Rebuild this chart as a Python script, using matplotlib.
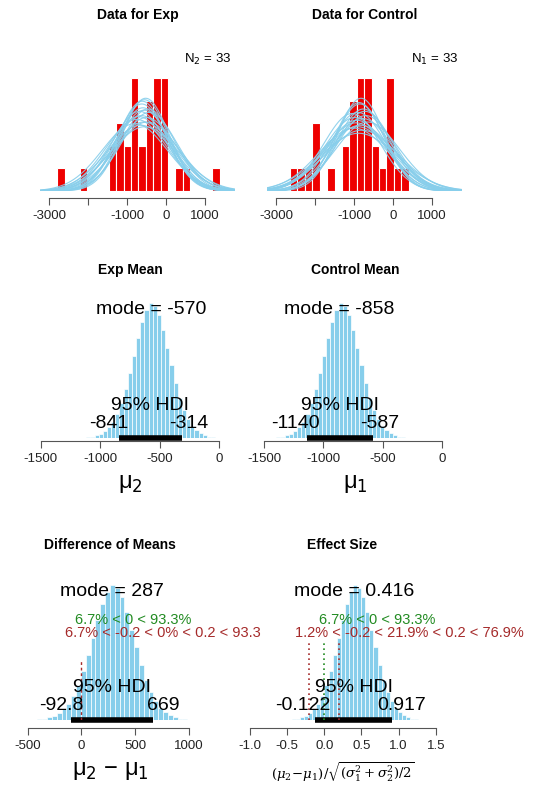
import matplotlib
matplotlib.use("Agg")
import matplotlib.pyplot as plt
import numpy as np

plt.rcParams['font.family'] = ['Liberation Sans', 'DejaVu Sans']

W, H = 540, 797

# --- data panels (counts per bin) ---
exp_bin_start, exp_bin_width = -2700, 190
exp_counts = [1, 0, 0, 1, 0, 0, 0, 2, 3, 2, 5, 2, 4, 5, 5, 0, 1, 1, 0, 0, 0, 1]
ctl_bin_start, ctl_bin_width = -2545, 190
ctl_counts = [1, 1, 1, 3, 0, 1, 0, 2, 4, 5, 5, 2, 1, 5, 1, 1]

# posterior predictive curves (mu, sigma)
exp_mu = [-620, -560, -700, -480, -520, -650, -590, -430, -750, -540, -610, -680, -500, -570, -460, -800, -630, -550]
exp_sigma = [650, 700, 760, 820, 610, 860, 680, 720, 790, 880, 630, 710, 770, 820, 690, 840, 750, 620]
ctl_mu = [-850, -900, -780, -950, -820, -1000, -700, -880, -760, -930, -840, -1050, -650, -870, -800, -980, -720, -910]
ctl_sigma = [650, 720, 780, 830, 610, 900, 750, 980, 690, 800, 860, 730, 820, 640, 930, 770, 710, 880]

# posterior histograms (relative heights)
post_shape = [1, 1, 2, 3, 5, 8, 12, 18, 26, 36, 48, 61, 74, 86, 95, 100, 98, 91, 80, 67, 54, 41, 30, 21, 14, 9, 6, 4, 2, 1, 1]
exp_mean_start, exp_mean_width = -1100, 35
ctl_mean_start, ctl_mean_width = -1380, 35
diff_start, diff_width = -388, 45
eff_start, eff_width = -0.41, 0.055

RED = '#EE0000'
BLUE = '#87CEEB'
GREEN = '#228B22'
DRED = '#A52A2A'

fig = plt.figure(figsize=(W / 100, H / 100), dpi=100)


def make_ax(x0, x1, ytop, ybot, xlim, ylim):
    ax = fig.add_axes([x0 / W, 1 - ybot / H, (x1 - x0) / W, (ybot - ytop) / H])
    ax.patch.set_visible(False)
    ax.set_xlim(*xlim)
    ax.set_ylim(*ylim)
    for s in ['top', 'right', 'left']:
        ax.spines[s].set_visible(False)
    ax.set_yticks([])
    ax.tick_params(axis='x', labelsize=9.5, length=5, color='#555555', labelcolor='#222222')
    ax.spines['bottom'].set_color('#555555')
    return ax


def centers(start, width, n):
    return start + width * np.arange(n)


def data_panel(ax, start, width, counts, mus, sigmas, ticks, title, nlabel):
    c = centers(start, width, len(counts))
    ax.bar(c, counts, width=width, color=RED, edgecolor='white', linewidth=0.8)
    xs = np.linspace(ax.get_xlim()[0], ax.get_xlim()[1], 300)
    n = sum(counts)
    for m, s in zip(mus, sigmas):
        ax.plot(xs, n * width * np.exp(-0.5 * ((xs - m) / s) ** 2) / (s * np.sqrt(2 * np.pi)),
                color=BLUE, lw=0.8, alpha=0.9)
    ax.set_xticks(ticks)
    ax.set_xticklabels([str(t) for t in ticks])
    ax.spines['bottom'].set_position(('outward', 5))
    ax.spines['bottom'].set_bounds(ticks[0], ticks[-1])
    ax.set_title(title, fontsize=10, fontweight='bold', pad=0, y=1.42)
    ax.text(0.98, 1.06, nlabel, transform=ax.transAxes, ha='right', fontsize=9.5)


def post_panel(ax, start, width, ticks, ticklabels, title, title_y, mode_txt, mode_x,
               hdi, hdi_mid, lo_txt, lo_x, hi_txt, hi_x, xlabel, xlabel_size, outward):
    c = centers(start, width, len(post_shape))
    ax.bar(c, post_shape, width=width, color=BLUE, edgecolor='white', linewidth=0.5)
    ax.plot(hdi, [0, 0], color='black', lw=4, solid_capstyle='butt', clip_on=False)
    ax.text(mode_x, 95, mode_txt, ha='center', va='center', fontsize=14)
    ax.text(hdi_mid, 24, '95% HDI', ha='center', va='center', fontsize=14)
    ax.text(lo_x, 10.5, lo_txt, ha='center', va='center', fontsize=14)
    ax.text(hi_x, 10.5, hi_txt, ha='center', va='center', fontsize=14)
    ax.set_xticks(ticks)
    ax.set_xticklabels(ticklabels)
    ax.spines['bottom'].set_position(('outward', outward))
    ax.spines['bottom'].set_bounds(ticks[0], ticks[-1])
    ax.set_xlabel(xlabel, fontsize=xlabel_size, labelpad=6)
    ax.set_title(title, fontsize=10, fontweight='bold', y=title_y)


# row 1
ax = make_ax(40, 235, 70, 191, (-3245, 1784), (0, 5.35))
data_panel(ax, exp_bin_start, exp_bin_width, exp_counts, exp_mu, exp_sigma,
           [-3000, -2000, -1000, 0, 1000], 'Data for Exp', r'N$_2$ = 33')
ax.set_xticklabels(['-3000', '', '-1000', '0', '1000'])
ax = make_ax(267, 462, 70, 191, (-3231, 1769), (0, 5.35))
data_panel(ax, ctl_bin_start, ctl_bin_width, ctl_counts, ctl_mu, ctl_sigma,
           [-3000, -2000, -1000, 0, 1000], 'Data for Control', r'N$_1$ = 33')
ax.set_xticklabels(['-3000', '', '-1000', '0', '1000'])

# row 2
ylim2 = (0, 100 * 148 / 135)
ax = make_ax(30, 230, 290, 438, (-1590, 92), ylim2)
post_panel(ax, exp_mean_start, exp_mean_width, [-1500, -1000, -500, 0],
           ['-1500', '-1000', '-500', '0'], 'Exp Mean', 1.05, 'mode = -570', -573,
           (-841, -314), -581, '-841', -926, '-314', -251, 'μ$_2$', 17, 2)
ax = make_ax(255, 455, 290, 438, (-1576, 106), ylim2)
post_panel(ax, ctl_mean_start, ctl_mean_width, [-1500, -1000, -500, 0],
           ['-1500', '-1000', '-500', '0'], 'Control Mean', 1.05, 'mode = -858', -864,
           (-1140, -587), -865, '-1140', -1240, '-587', -526, 'μ$_1$', 17, 2)

# row 3
ax = make_ax(15, 205, 572, 720, (-618, 1149), ylim2)
post_panel(ax, diff_start, diff_width, [-500, 0, 500, 1000],
           ['-500', '0', '500', '1000'], 'Difference of Means', 1.10, 'mode = 287', 281,
           (-92.8, 669), 281, '-92.8', -184, '669', 758, 'μ$_2$ − μ$_1$', 17, 6)
ax.plot([0, 0], [0, 44], color=DRED, ls=(0, (2, 2)), lw=1)
ax.text(479, 74, '6.7% < 0 < 93.3%', color=GREEN, ha='center', va='center', fontsize=10.5)
ax.text(758, 64.7, '6.7% < -0.2 < 0% < 0.2 < 93.3', color=DRED, ha='center', va='center',
        fontsize=10.5, clip_on=False)

ax = make_ax(240, 445, 572, 720, (-1.1346, 1.625), ylim2)
post_panel(ax, eff_start, eff_width, [-1.0, -0.5, 0.0, 0.5, 1.0, 1.5],
           ['-1.0', '-0.5', '0.0', '0.5', '1.0', '1.5'], 'Effect Size', 1.10, 'mode = 0.416', 0.40,
           (-0.122, 0.917), 0.40, '-0.122', -0.286, '0.917', 1.042,
           r'$(\mu_2\!-\!\mu_1)/\sqrt{(\sigma_1^2+\sigma_2^2)/2}$', 9.5, 6)
ax.xaxis.label.set_math_fontfamily('dejavuserif')
for xv, col in [(-0.2, DRED), (0.0, GREEN), (0.2, DRED)]:
    ax.plot([xv, xv], [0, 59], color=col, ls=(0, (1, 2)), lw=1.2)
ax.text(0.706, 74, '6.7% < 0 < 93.3%', color=GREEN, ha='center', va='center', fontsize=10.5)
ax.text(1.14, 64.7, '1.2% < -0.2 < 21.9% < 0.2 < 76.9%', color=DRED, ha='center', va='center',
        fontsize=10.5, clip_on=False)

fig.savefig('out.png', dpi=100)
